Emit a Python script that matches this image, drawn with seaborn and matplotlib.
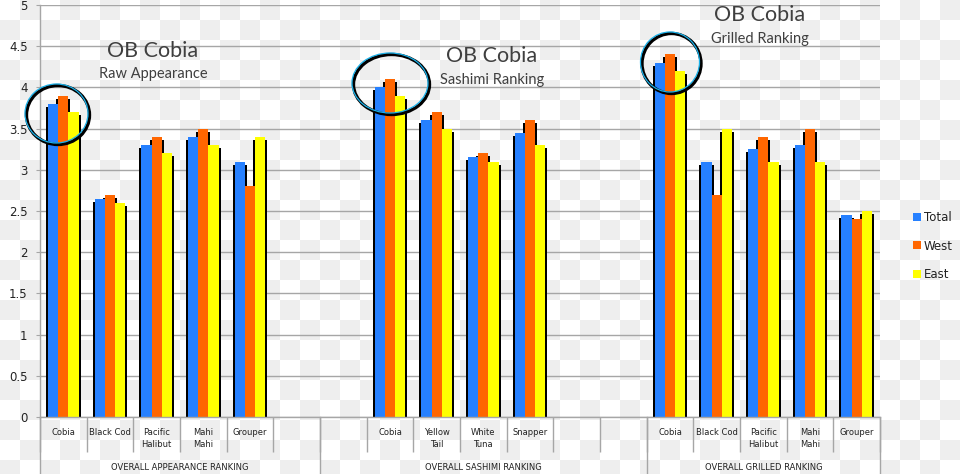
import numpy as np
import pandas as pd
import matplotlib
matplotlib.use("Agg")
import matplotlib.pyplot as plt
import matplotlib.transforms as mtransforms
from matplotlib.patches import Ellipse, Rectangle
import seaborn as sns

# ---------------- data ----------------
series_names = ["Total", "West", "East"]
series_colors = ["#2680FF", "#FF6600", "#FFFF00"]

group_labels = ["OVERALL APPEARANCE RANKING", "OVERALL SASHIMI RANKING", "OVERALL GRILLED RANKING"]
panel_titles = ["OB Cobia", "OB Cobia", "OB Cobia"]
panel_subtitles = ["Raw Appearance", "Sashimi Ranking", "Grilled Ranking"]

# "" marks an empty category slot on the axis
appearance_categories = ["Cobia", "Black Cod", "Pacific\nHalibut", "Mahi\nMahi", "Grouper", ""]
appearance_total = [3.8, 2.65, 3.3, 3.4, 3.1]
appearance_west = [3.9, 2.7, 3.4, 3.5, 2.8]
appearance_east = [3.7, 2.6, 3.2, 3.3, 3.4]

sashimi_categories = ["", "Cobia", "Yellow\nTail", "White\nTuna", "Snapper", "", ""]
sashimi_total = [4.0, 3.6, 3.15, 3.45]
sashimi_west = [4.1, 3.7, 3.2, 3.6]
sashimi_east = [3.9, 3.5, 3.1, 3.3]

grilled_categories = ["Cobia", "Black Cod", "Pacific\nHalibut", "Mahi\nMahi", "Grouper"]
grilled_total = [4.3, 3.1, 3.25, 3.3, 2.45]
grilled_west = [4.4, 2.7, 3.4, 3.5, 2.4]
grilled_east = [4.2, 3.5, 3.1, 3.1, 2.5]

y_ticks = [0, 0.5, 1, 1.5, 2, 2.5, 3, 3.5, 4, 4.5, 5]

# ---------------- build table ----------------
groups = [
    (appearance_categories, [appearance_total, appearance_west, appearance_east]),
    (sashimi_categories, [sashimi_total, sashimi_west, sashimi_east]),
    (grilled_categories, [grilled_total, grilled_west, grilled_east]),
]
slot_keys, slot_labels, rows, group_sizes = [], [], [], []
for gi, (cats, vals) in enumerate(groups):
    group_sizes.append(len(cats))
    fish = [c for c in cats if c]
    for si, c in enumerate(cats):
        key = f"{gi}-{si}"
        slot_keys.append(key)
        slot_labels.append(c)
        if c:
            fi = fish.index(c)
            for sname, sv in zip(series_names, vals):
                rows.append({"slot": key, "series": sname, "value": sv[fi]})
df = pd.DataFrame(rows)

# ---------------- figure ----------------
W, H = 960, 474
fig = plt.figure(figsize=(9.6, 4.74), dpi=100)
fig.patch.set_facecolor("white")

# transparent-background checkerboard look
yy, xx = np.mgrid[0:H, 0:W]
chk = ((xx // 20 + yy // 20) % 2 == 1)
img = np.ones((H, W, 3))
img[chk] = 0.937
fig.figimage(img, xo=0, yo=0, origin="upper", zorder=-1)

ax_left, ax_right, ax_top, ax_bottom = 40, 880, 5, 417
ax = fig.add_axes([ax_left / W, (H - ax_bottom) / H, (ax_right - ax_left) / W, (ax_bottom - ax_top) / H])
ax.set_facecolor("none")

sns.barplot(data=df, x="slot", y="value", hue="series", order=slot_keys,
            hue_order=series_names, palette=series_colors, width=0.66,
            saturation=1, errorbar=None, ax=ax, zorder=2)

# bar shadows
slot_px = (ax_right - ax_left) / len(slot_keys)
unit_px = (ax_bottom - ax_top) / 5.0
dx = 2.0 / slot_px
dy = 3.0 / unit_px
bars = [p for p in ax.patches if isinstance(p, Rectangle) and p.get_height() > 0]
for p in bars:
    ax.add_patch(Rectangle((p.get_x() - dx, 0), p.get_width() + 2 * dx, p.get_height() - dy,
                           facecolor="black", edgecolor="none", zorder=1.5))

gray = "#a6a6a6"
ax.set_xlim(-0.5, len(slot_keys) - 0.5)
ax.set_ylim(0, 5)
ax.set_yticks(y_ticks)
ax.set_yticklabels([f"{v:g}" for v in y_ticks])
ax.yaxis.grid(True, color=gray, linewidth=1)
ax.set_axisbelow(True)
ax.set_xlabel("")
ax.set_ylabel("")
for s in ["top", "right"]:
    ax.spines[s].set_visible(False)
for s in ["left", "bottom"]:
    ax.spines[s].set_color(gray)
    ax.spines[s].set_linewidth(1)

ax.tick_params(axis="y", length=3, color=gray, pad=6, labelsize=8.5, labelcolor="#222222")
ax.set_xticks(range(len(slot_keys)))
ax.set_xticklabels(slot_labels, fontsize=6, linespacing=1.45, color="#222222")
ax.tick_params(axis="x", which="major", length=0, pad=8)
ax.set_xticks(np.arange(-0.5, len(slot_keys), 1), minor=True)
ax.tick_params(axis="x", which="minor", length=25.2, color=gray, width=1)

# multi-level category axis: group separators and labels
trans = mtransforms.blended_transform_factory(ax.transData, ax.transAxes)
bottom_frac = -(H - ax_bottom) / (ax_bottom - ax_top)
label_frac = -(467 - ax_bottom) / (ax_bottom - ax_top)
edges = np.concatenate([[0], np.cumsum(group_sizes)]) - 0.5
for e in edges:
    ax.plot([e, e], [0, bottom_frac], color=gray, lw=1, transform=trans, clip_on=False)
for gi, lab in enumerate(group_labels):
    ax.text((edges[gi] + edges[gi + 1]) / 2, label_frac, lab, transform=trans,
            ha="center", va="center", fontsize=6, color="#222222")

# panel titles
title_pos = [(153, 51, 74), (492, 56, 80), (760, 15, 39)]
for (x, yt, ys), t, st in zip(title_pos, panel_titles, panel_subtitles):
    fig.text(x / W, 1 - yt / H, t, ha="center", va="center", fontsize=15.5,
             family="Lato", color="#3f3f3f")
    fig.text(x / W, 1 - ys / H, st, ha="center", va="center", fontsize=10.5,
             family="Lato", color="#3f3f3f")

# highlight circles around Cobia
circles = [(56.5, 113.5, 63, 59), (390, 83, 76, 60), (670, 62, 59, 60)]
for cx, cy, w, h in circles:
    fig.add_artist(Ellipse(((cx + 1.5) / W, 1 - (cy + 1.5) / H), w / W, h / H,
                           transform=fig.transFigure, fill=False, edgecolor="black",
                           lw=2.4, zorder=5))
    fig.add_artist(Ellipse((cx / W, 1 - cy / H), w / W, h / H,
                           transform=fig.transFigure, fill=False, edgecolor="#1ab0e8",
                           lw=0.9, zorder=6))

# legend
sns.move_legend(ax, "center left", bbox_to_anchor=(913 / W, 1 - 246 / H),
                bbox_transform=fig.transFigure, frameon=False, title=None,
                fontsize=8.5, handlelength=0.68, handleheight=0.68,
                handletextpad=0.25, labelspacing=1.33, borderpad=0, borderaxespad=0)
for t in ax.get_legend().get_texts():
    t.set_color("#222222")

fig.savefig("out.png", dpi=100)
